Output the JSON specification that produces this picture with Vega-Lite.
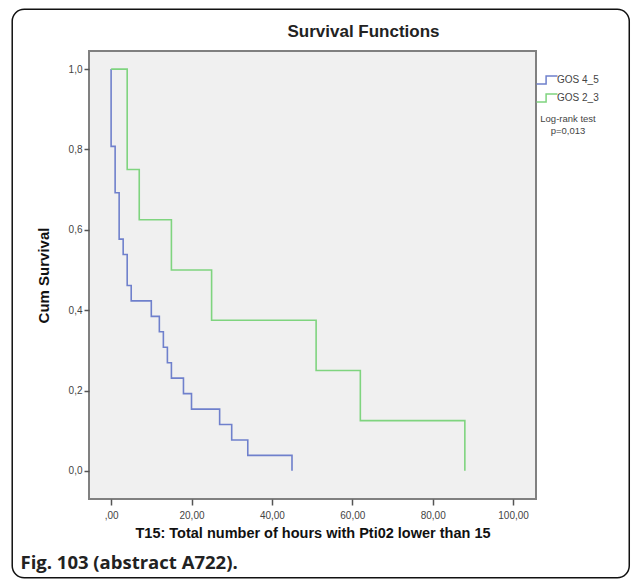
{
  "$schema": "https://vega.github.io/schema/vega-lite/v6.json",
  "autosize": {"type": "pad"},
  "padding": {"left": 10, "top": 7, "right": 0, "bottom": 0},
  "background": "white",
  "title": {
    "text": "Fig. 103 (abstract A722).",
    "orient": "bottom",
    "anchor": "start",
    "font": "Open Sans",
    "fontSize": 18.5,
    "fontWeight": "bold",
    "color": "#222222",
    "baseline": "alphabetic",
    "offset": -11,
    "dx": 10
  },
  "vconcat": [
    {
      "width": 447,
      "height": 448,
      "title": {
        "text": "Survival Functions",
        "frame": "group",
        "anchor": "middle",
        "orient": "top",
        "baseline": "alphabetic",
        "offset": -46,
        "dx": 51,
        "font": "Liberation Sans",
        "fontSize": 17,
        "fontWeight": "bold",
        "color": "#222222"
      },
      "layer": [
        {
          "data": {"values": [{}]},
          "mark": {"type": "rect", "filled": false, "stroke": "#111111", "strokeWidth": 1.5, "cornerRadius": 12, "clip": false},
          "encoding": {
            "x": {"datum": -24.6, "type": "quantitative"},
            "x2": {"datum": 128.9},
            "y": {"datum": 1.149, "type": "quantitative"},
            "y2": {"datum": -0.266}
          }
        },
        {
          "data": {
            "values": [
              {"group": "GOS 4_5", "i": 0, "t": 0, "s": 1},
              {"group": "GOS 4_5", "i": 1, "t": 0, "s": 0.8077},
              {"group": "GOS 4_5", "i": 2, "t": 1, "s": 0.6923},
              {"group": "GOS 4_5", "i": 3, "t": 2, "s": 0.5769},
              {"group": "GOS 4_5", "i": 4, "t": 3, "s": 0.5385},
              {"group": "GOS 4_5", "i": 5, "t": 4, "s": 0.4615},
              {"group": "GOS 4_5", "i": 6, "t": 5, "s": 0.4231},
              {"group": "GOS 4_5", "i": 7, "t": 10, "s": 0.3846},
              {"group": "GOS 4_5", "i": 8, "t": 12, "s": 0.3462},
              {"group": "GOS 4_5", "i": 9, "t": 13, "s": 0.3077},
              {"group": "GOS 4_5", "i": 10, "t": 14, "s": 0.2692},
              {"group": "GOS 4_5", "i": 11, "t": 15, "s": 0.2308},
              {"group": "GOS 4_5", "i": 12, "t": 18, "s": 0.1923},
              {"group": "GOS 4_5", "i": 13, "t": 20, "s": 0.1538},
              {"group": "GOS 4_5", "i": 14, "t": 27, "s": 0.1154},
              {"group": "GOS 4_5", "i": 15, "t": 30, "s": 0.0769},
              {"group": "GOS 4_5", "i": 16, "t": 34, "s": 0.0385},
              {"group": "GOS 4_5", "i": 17, "t": 45, "s": 0},
              {"group": "GOS 2_3", "i": 0, "t": 0, "s": 1},
              {"group": "GOS 2_3", "i": 1, "t": 4, "s": 0.75},
              {"group": "GOS 2_3", "i": 2, "t": 7, "s": 0.625},
              {"group": "GOS 2_3", "i": 3, "t": 15, "s": 0.5},
              {"group": "GOS 2_3", "i": 4, "t": 25, "s": 0.375},
              {"group": "GOS 2_3", "i": 5, "t": 51, "s": 0.25},
              {"group": "GOS 2_3", "i": 6, "t": 62, "s": 0.125},
              {"group": "GOS 2_3", "i": 7, "t": 88, "s": 0}
            ]
          },
          "mark": {"type": "line", "interpolate": "step-after", "strokeWidth": 1.6},
          "encoding": {
            "x": {
              "field": "t",
              "type": "quantitative",
              "scale": {"domain": [-5.5, 105.7], "nice": false, "zero": false},
              "axis": {
                "title": "T15: Total number of hours with Pti02 lower than 15",
                "values": [0, 20, 40, 60, 80, 100],
                "labelExpr": "datum.value == 0 ? ',00' : replace(format(datum.value, '.2f'), '.', ',')"
              }
            },
            "y": {
              "field": "s",
              "type": "quantitative",
              "scale": {"domain": [-0.07, 1.045], "nice": false, "zero": false},
              "axis": {
                "title": "Cum Survival",
                "values": [0, 0.2, 0.4, 0.6, 0.8, 1],
                "labelExpr": "replace(format(datum.value, '.1f'), '.', ',')"
              }
            },
            "color": {
              "field": "group",
              "type": "nominal",
              "scale": {"domain": ["GOS 4_5", "GOS 2_3"], "range": ["#6f80cc", "#7fd47f"]},
              "legend": {
                "title": ["Log-rank test", "p=0,013"],
                "titleOrient": "bottom",
                "titleAnchor": "middle",
                "titleAlign": "center",
                "orient": "none",
                "legendX": 448,
                "legendY": 19,
                "symbolType": "M-1.15,0.45H-0.1V-0.45H1.15",
                "symbolSize": 330,
                "symbolStrokeWidth": 1.5,
                "symbolFillColor": "transparent",
                "labelFont": "Liberation Sans",
                "labelFontSize": 10,
                "labelColor": "#444444",
                "labelOffset": 0,
                "rowPadding": -5,
                "titleFont": "Liberation Sans",
                "titleFontSize": 9.5,
                "titleFontWeight": "normal",
                "titleColor": "#444444",
                "titlePadding": 9
              }
            },
            "order": {"field": "i", "type": "quantitative"}
          }
        }
      ]
    }
  ],
  "config": {
    "view": {"fill": "#f0f0f0", "stroke": "#808080", "strokeWidth": 2},
    "axis": {
      "grid": false,
      "domain": false,
      "ticks": true,
      "tickColor": "#555555",
      "tickWidth": 1.5,
      "labelFont": "Liberation Sans",
      "labelFontSize": 10,
      "labelColor": "#444444",
      "titleFont": "Liberation Sans",
      "titleFontWeight": "bold",
      "titleColor": "#111111"
    },
    "axisX": {"tickSize": 6, "labelPadding": 5, "titleFontSize": 14.5, "titlePadding": 6},
    "axisY": {"tickSize": 5, "labelPadding": 2, "titleFontSize": 15, "titlePadding": 17}
  }
}
